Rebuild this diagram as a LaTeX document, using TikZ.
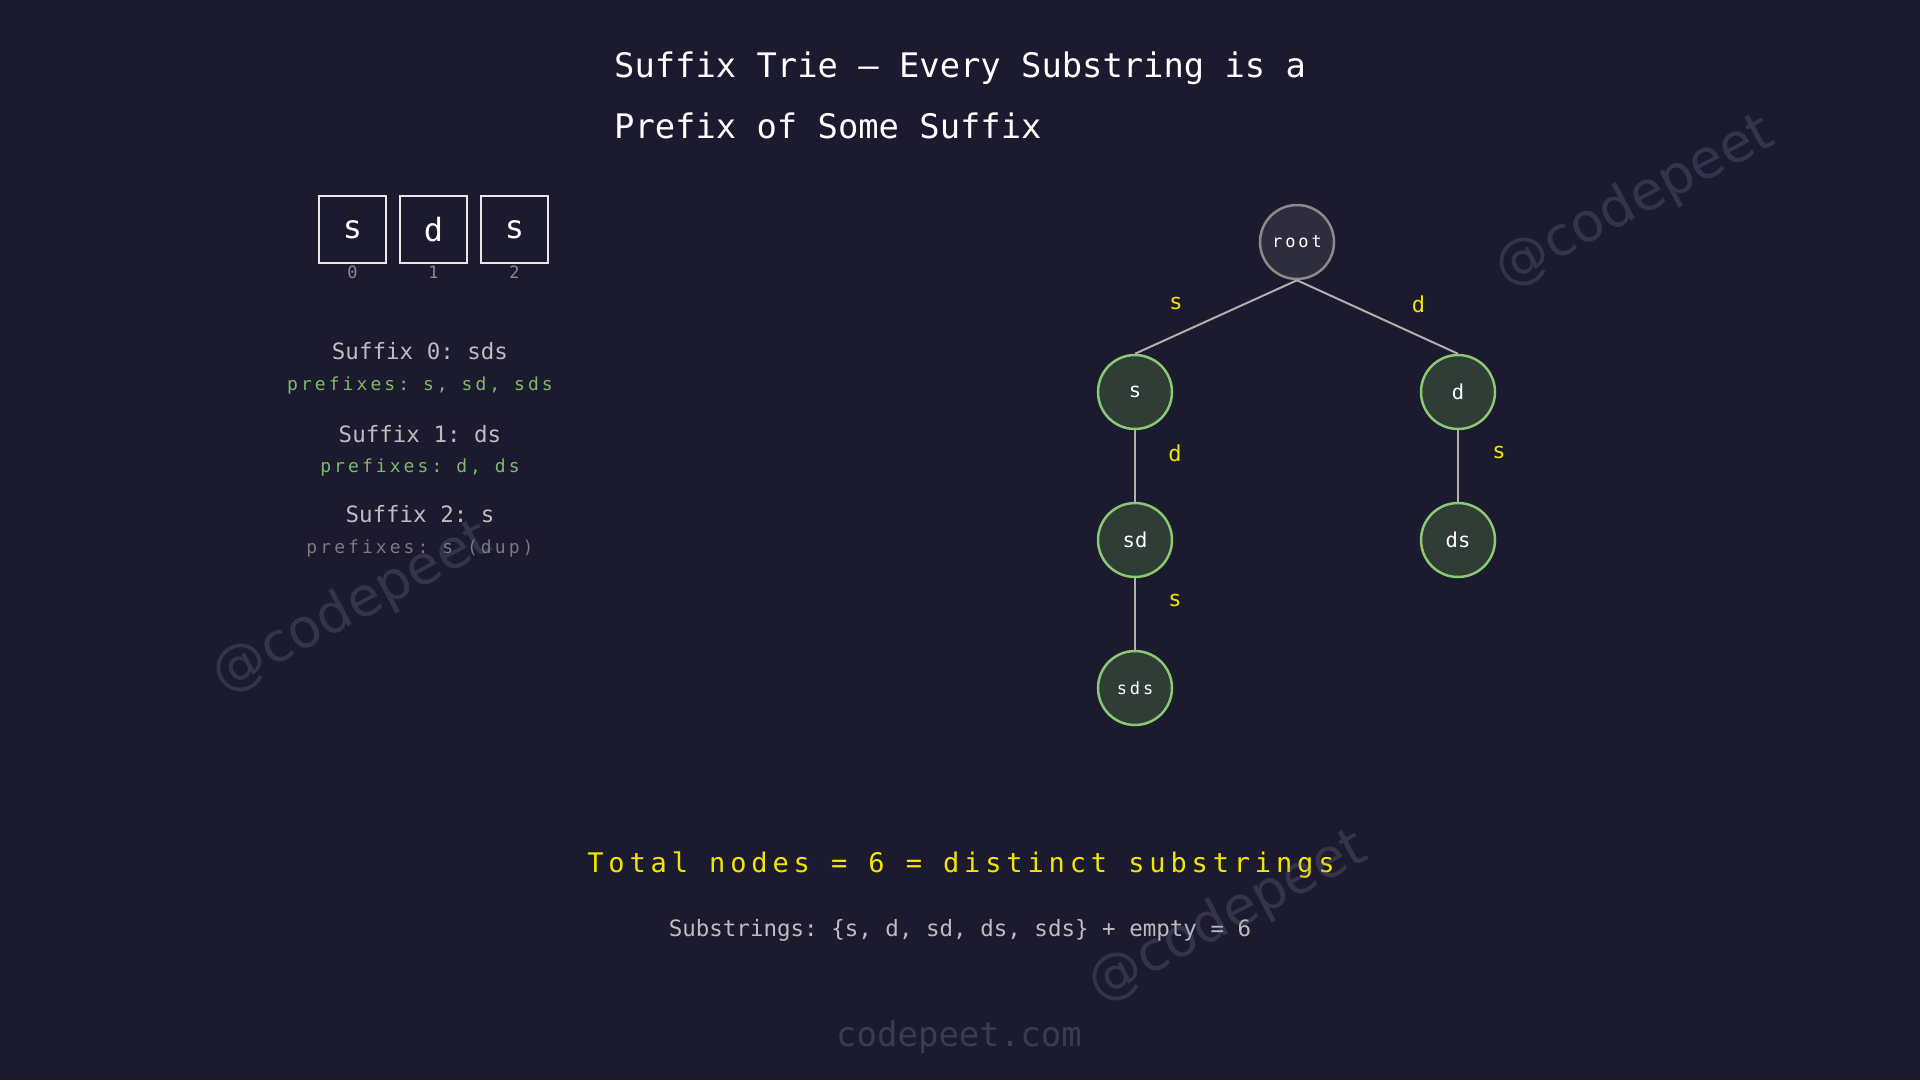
\documentclass[tikz,border=0pt]{standalone}
\usepackage{fontspec}
\usepackage{tikz}
\usetikzlibrary{positioning}
\setmainfont{DejaVu Sans Mono}
\newfontfamily\spacedfont{DejaVu Sans Mono}[LetterSpace=17]
\newfontfamily\widefont{DejaVu Sans Mono}[LetterSpace=18]
\newfontfamily\markfont{DejaVu Sans}
\newcommand{\fsz}[1]{\fontsize{#1}{#1}\selectfont}
\frenchspacing
\definecolor{bg}{HTML}{1B1A2E}
\definecolor{boxline}{HTML}{E8E8E8}
\definecolor{idxgray}{HTML}{8A8A8A}
\definecolor{sufgray}{HTML}{BDBDBD}
\definecolor{pregreen}{HTML}{7DBA6A}
\definecolor{dupgray}{HTML}{7A7A7A}
\definecolor{rootfill}{HTML}{2E2D3D}
\definecolor{rootline}{HTML}{8A8A8A}
\definecolor{leaffill}{HTML}{2F3D36}
\definecolor{leafline}{HTML}{8BC872}
\definecolor{edgegray}{HTML}{B0B0B0}
\definecolor{labyellow}{HTML}{F2E600}
\definecolor{sitegray}{HTML}{3B3A50}
\definecolor{markgray}{HTML}{8080A8}

\begin{document}
\frenchspacing
\begin{tikzpicture}[x=1pt, y=-1pt]
\tikzstyle{every node} = [inner sep=0pt, text=white]
\tikzstyle{cell} = [draw=boxline, line width=2pt, minimum size=67pt, font=\fsz{32}]
\tikzstyle{idx} = [text=idxgray, font=\fsz{17}]
\tikzstyle{suf} = [anchor=base, text=sufgray, font=\fsz{22.5}]
\tikzstyle{pre} = [anchor=base, text=pregreen, font=\spacedfont\fsz{18}]
\tikzstyle{rootnode} = [circle, draw=rootline, fill=rootfill, line width=2.5pt, minimum size=74pt, font=\spacedfont\fsz{17}]
\tikzstyle{trienode} = [circle, draw=leafline, fill=leaffill, line width=2.5pt, minimum size=74pt, font=\fsz{20.5}]
\tikzstyle{edge} = [draw=edgegray, line width=2pt]
\tikzstyle{elab} = [text=labyellow, font=\fsz{22}]
\tikzstyle{wmark} = [text=markgray, text opacity=0.25, font=\markfont\fsz{54}, rotate=28]
\fill[bg] (0,0) rectangle (1920,1080);
\useasboundingbox (0,0) rectangle (1920,1080);
% title
\node[anchor=base west, font=\fsz{33.8}] (t1) at (614,77) {Suffix Trie — Every Substring is a};
\node[anchor=base west, font=\fsz{33.8}] (t2) at (614,138) {Prefix of Some Suffix};
% the string
\node[cell] (c0) at (352.5,229.5) {s};
\node[cell, right=12pt of c0] (c1) {d};
\node[cell, right=12pt of c1] (c2) {s};
\foreach \i in {0,1,2}
\node[idx, below=1.5pt of c\i] (i\i) {\i};
% suffixes
\node[suf] (s0) at (420,359) {Suffix 0: sds};
\node[pre] (p0) at (420,390) {prefixes: s, sd, sds};
\node[suf] (s1) at (420,442) {Suffix 1: ds};
\node[pre] (p1) at (420,472) {prefixes: d, ds};
\node[suf] (s2) at (420,522) {Suffix 2: s};
\node[pre, text=dupgray] (p2) at (420,553) {prefixes: s (dup)};
% trie
\node[rootnode] (root) at (1297,242) {root};
\node[trienode] (s) at (1135,392) {s};
\node[trienode] (d) at (1458,392) {d};
\node[trienode] (sd) at (1135,540) {sd};
\node[trienode] (ds) at (1458,540) {ds};
\node[trienode, font=\spacedfont\fsz{17}] (sds) at (1135,688) {sds};
\foreach \from/\to/\lab/\dx/\dy in {root/s/s/-40/14, root/d/d/41/13, s/sd/d/40/13, sd/sds/s/40/14, d/ds/s/41/14}
\draw[edge] (\from.south) -- (\to.north) node[elab, midway, xshift=\dx pt, yshift=\dy pt] (l\to) {\lab};
% summary
\node[anchor=base, text=labyellow, font=\widefont\fsz{27}] (total) at (961,872) {Total nodes = 6 = distinct substrings};
\node[anchor=base, text=sufgray, font=\fsz{22.5}] (subs) at (960,936) {Substrings: \{s, d, sd, ds, sds\} + empty = 6};
\node[anchor=base, text=sitegray, font=\fsz{34}] (site) at (959,1046) {codepeet.com};
% watermarks
\node[wmark] (w1) at (352,608) {@codepeet};
\node[wmark] (w2) at (1635,202) {@codepeet};
\node[wmark] (w3) at (1228,917) {@codepeet};
\end{tikzpicture}
\end{document}
